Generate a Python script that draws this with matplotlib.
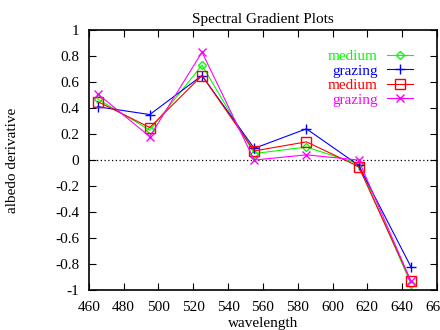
import matplotlib
matplotlib.use("Agg")
import matplotlib.pyplot as plt

plt.rcParams['font.family'] = ['Liberation Serif', 'DejaVu Serif']

wavelength = [465, 495, 525, 555, 585, 615, 645]
medium_1 = [0.47, 0.23, 0.73, 0.05, 0.10, -0.03, -0.95]
grazing_1 = [0.41, 0.35, 0.65, 0.09, 0.24, -0.04, -0.82]
medium_2 = [0.45, 0.25, 0.65, 0.07, 0.14, -0.05, -0.93]
grazing_2 = [0.51, 0.18, 0.83, 0.00, 0.04, 0.00, -0.93]

fig = plt.figure(figsize=(4.4, 3.3), dpi=100)
ax = fig.add_axes([0.202, 0.121, 0.791, 0.788])

ax.axhline(0, color='black', linestyle=(0, (1, 2)), linewidth=0.9)

ax.plot(wavelength, medium_1, color='#00ff00', marker='D', markersize=4.5,
        mfc='none', lw=0.8, label='medium')
ax.plot(wavelength, grazing_1, color='#0000ff', marker='+', markersize=7,
        lw=0.8, label='grazing')
ax.plot(wavelength, medium_2, color='#ff0000', marker='s', markersize=6.5,
        mfc='none', lw=0.8, label='medium')
ax.plot(wavelength, grazing_2, color='#ff00ff', marker='x', markersize=6,
        lw=0.8, label='grazing')

ax.set_xlim(460, 660)
ax.set_ylim(-1, 1)
ax.set_xticks(range(460, 661, 20))
ax.set_yticks([-1, -0.8, -0.6, -0.4, -0.2, 0, 0.2, 0.4, 0.6, 0.8, 1])
ax.set_yticklabels(['-1', '-0.8', '-0.6', '-0.4', '-0.2', '0', '0.2', '0.4',
                    '0.6', '0.8', '1'])
ax.tick_params(direction='in', top=True, right=True, length=5, labelsize=11)
ax.tick_params(axis='x', pad=8)
ax.tick_params(axis='y', pad=7)
for s in ax.spines.values():
    s.set_linewidth(1.2)

ax.set_xlabel('wavelength', fontsize=11, labelpad=2)
ax.set_ylabel('albedo derivative', fontsize=11, labelpad=26)
ax.set_title('Spectral Gradient Plots', fontsize=11, pad=5)

ax.legend(loc='upper right', bbox_to_anchor=(0.931, 0.925), frameon=False,
          markerfirst=False, labelcolor='linecolor', fontsize=11,
          handlelength=1.7, labelspacing=0.05, borderaxespad=0,
          handletextpad=0.6, borderpad=0)

fig.savefig('out.png', dpi=100)
